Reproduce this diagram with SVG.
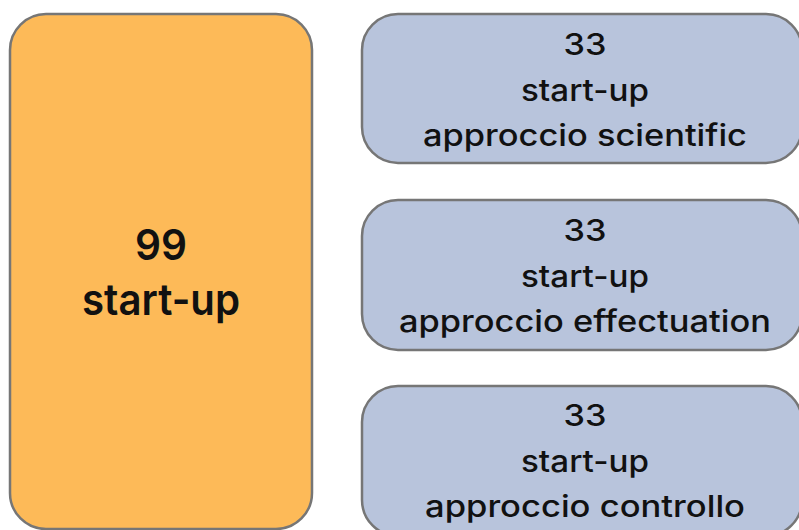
<svg xmlns="http://www.w3.org/2000/svg" width="799" height="530" viewBox="0 0 799 530">
  <style>
    .box { stroke: #767676; stroke-width: 2.5; }
    .total { fill: #FDBA58; }
    .group { fill: #B8C4DC; }
    .label { font-family: Inter, "Noto Sans", sans-serif; font-size: 30px; font-weight: 500; fill: #111; text-anchor: middle; }
    .big { font-family: Inter, "Noto Sans", sans-serif; font-size: 43px; font-weight: 600; fill: #111; text-anchor: middle; }
  </style>
  <rect width="799" height="530" fill="#ffffff"/>

  <g id="total">
    <rect class="box total" x="10" y="14" width="302" height="515" rx="36" ry="36"/>
    <text class="big" x="161" y="260" textLength="52" lengthAdjust="spacingAndGlyphs">99</text>
    <text class="big" x="161" y="315" textLength="158" lengthAdjust="spacingAndGlyphs">start-up</text>
  </g>

  <g id="scientific">
    <rect class="box group" x="362" y="14" width="440" height="149" rx="36" ry="36"/>
    <text class="label" x="585" y="55" textLength="43" lengthAdjust="spacingAndGlyphs">33</text>
    <text class="label" x="585" y="101" textLength="128" lengthAdjust="spacingAndGlyphs">start-up</text>
    <text class="label" x="585" y="146" textLength="324" lengthAdjust="spacingAndGlyphs">approccio scientific</text>
  </g>

  <g id="effectuation">
    <rect class="box group" x="362" y="200" width="440" height="150" rx="36" ry="36"/>
    <text class="label" x="585" y="241" textLength="43" lengthAdjust="spacingAndGlyphs">33</text>
    <text class="label" x="585" y="287" textLength="128" lengthAdjust="spacingAndGlyphs">start-up</text>
    <text class="label" x="585" y="332" textLength="372" lengthAdjust="spacingAndGlyphs">approccio effectuation</text>
  </g>

  <g id="controllo">
    <rect class="box group" x="362" y="386" width="440" height="150" rx="36" ry="36"/>
    <text class="label" x="585" y="426" textLength="43" lengthAdjust="spacingAndGlyphs">33</text>
    <text class="label" x="585" y="472" textLength="128" lengthAdjust="spacingAndGlyphs">start-up</text>
    <text class="label" x="585" y="517" textLength="320" lengthAdjust="spacingAndGlyphs">approccio controllo</text>
  </g>

  <g id="connectors"></g>
</svg>
